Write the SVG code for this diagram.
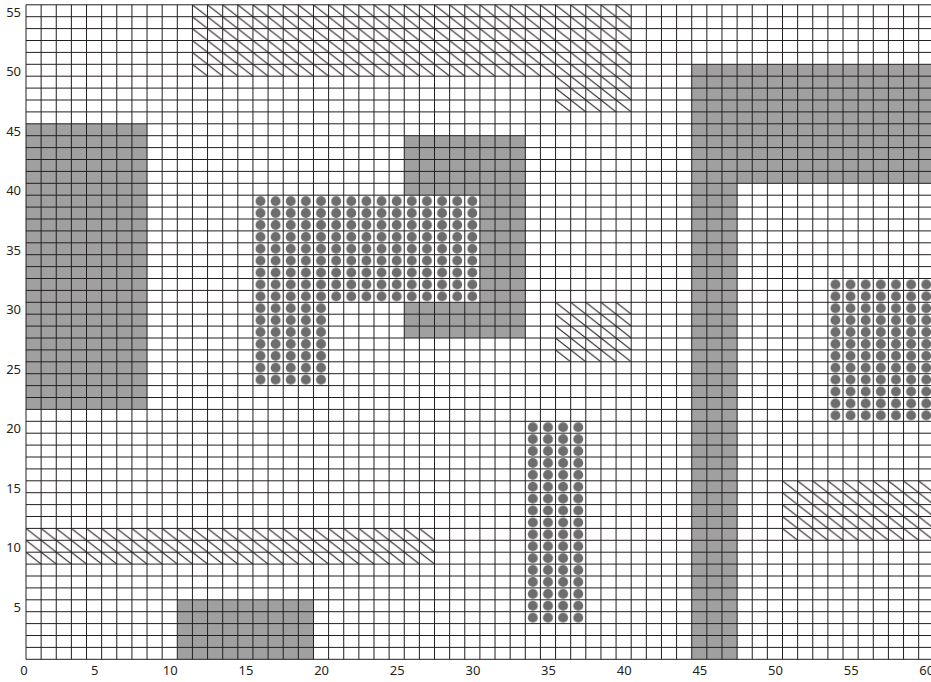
<svg xmlns="http://www.w3.org/2000/svg" width="931" height="682" viewBox="0 0 931 682">
<style>
.lbl{font-family:"Noto Sans","Open Sans","Liberation Sans",sans-serif;font-size:13px;fill:#231f20}
.yl{text-anchor:end}
.xl{text-anchor:middle}
.gray{fill:#a0a0a0}
.dots{fill:url(#dotPat)}
.hatch{fill:url(#hatchPat)}
.grid{fill:none;stroke:#231f20;stroke-width:1}
</style>
<defs>
<pattern id="dotPat" patternUnits="userSpaceOnUse" x="26" y="4.8" width="15.13" height="11.9">
<rect width="15.13" height="11.9" fill="#ffffff"/>
<circle cx="7.565" cy="5.95" r="5" fill="#6d6d6d"/>
</pattern>
<pattern id="hatchPat" patternUnits="userSpaceOnUse" x="26" y="4.8" width="15.13" height="11.9">
<line x1="0" y1="0" x2="15.13" y2="11.9" stroke="#231f20" stroke-width="1"/>
</pattern>
</defs>
<rect width="931" height="682" fill="#ffffff"/>
<g id="gray-regions">
<rect class="gray" x="26" y="123.8" width="121.04" height="285.6"/>
<rect class="gray" x="404.25" y="135.7" width="121.04" height="202.3"/>
<rect class="gray" x="691.72" y="64.3" width="239.28" height="119"/>
<rect class="gray" x="691.72" y="183.3" width="45.39" height="476"/>
<rect class="gray" x="177.3" y="599.8" width="136.17" height="59.5"/>
</g>
<g id="dot-regions">
<rect class="dots" x="252.95" y="195.2" width="226.95" height="107.1"/>
<rect class="dots" x="252.95" y="302.3" width="75.65" height="83.3"/>
<rect class="dots" x="525.29" y="421.3" width="60.52" height="202.3"/>
<rect class="dots" x="827.89" y="278.5" width="103.11" height="142.8"/>
</g>
<g id="hatch-regions">
<rect class="hatch" x="192.43" y="4.8" width="438.77" height="71.4"/>
<rect class="hatch" x="555.55" y="76.2" width="75.65" height="35.7"/>
<rect class="hatch" x="555.55" y="302.3" width="75.65" height="59.5"/>
<rect class="hatch" x="782.5" y="480.8" width="148.5" height="59.5"/>
<rect class="hatch" x="26" y="528.4" width="408.51" height="35.7"/>
</g>
<g id="grid">
<path class="grid" d="M26 4.8V659.3M41.13 4.8V659.3M56.26 4.8V659.3M71.39 4.8V659.3M86.52 4.8V659.3M101.65 4.8V659.3M116.78 4.8V659.3M131.91 4.8V659.3M147.04 4.8V659.3M162.17 4.8V659.3M177.3 4.8V659.3M192.43 4.8V659.3M207.56 4.8V659.3M222.69 4.8V659.3M237.82 4.8V659.3M252.95 4.8V659.3M268.08 4.8V659.3M283.21 4.8V659.3M298.34 4.8V659.3M313.47 4.8V659.3M328.6 4.8V659.3M343.73 4.8V659.3M358.86 4.8V659.3M373.99 4.8V659.3M389.12 4.8V659.3M404.25 4.8V659.3M419.38 4.8V659.3M434.51 4.8V659.3M449.64 4.8V659.3M464.77 4.8V659.3M479.9 4.8V659.3M495.03 4.8V659.3M510.16 4.8V659.3M525.29 4.8V659.3M540.42 4.8V659.3M555.55 4.8V659.3M570.68 4.8V659.3M585.81 4.8V659.3M600.94 4.8V659.3M616.07 4.8V659.3M631.2 4.8V659.3M646.33 4.8V659.3M661.46 4.8V659.3M676.59 4.8V659.3M691.72 4.8V659.3M706.85 4.8V659.3M721.98 4.8V659.3M737.11 4.8V659.3M752.24 4.8V659.3M767.37 4.8V659.3M782.5 4.8V659.3M797.63 4.8V659.3M812.76 4.8V659.3M827.89 4.8V659.3M843.02 4.8V659.3M858.15 4.8V659.3M873.28 4.8V659.3M888.41 4.8V659.3M903.54 4.8V659.3M918.67 4.8V659.3"/>
<path class="grid" d="M26 4.8H931M26 16.7H931M26 28.6H931M26 40.5H931M26 52.4H931M26 64.3H931M26 76.2H931M26 88.1H931M26 100H931M26 111.9H931M26 123.8H931M26 135.7H931M26 147.6H931M26 159.5H931M26 171.4H931M26 183.3H931M26 195.2H931M26 207.1H931M26 219H931M26 230.9H931M26 242.8H931M26 254.7H931M26 266.6H931M26 278.5H931M26 290.4H931M26 302.3H931M26 314.2H931M26 326.1H931M26 338H931M26 349.9H931M26 361.8H931M26 373.7H931M26 385.6H931M26 397.5H931M26 409.4H931M26 421.3H931M26 433.2H931M26 445.1H931M26 457H931M26 468.9H931M26 480.8H931M26 492.7H931M26 504.6H931M26 516.5H931M26 528.4H931M26 540.3H931M26 552.2H931M26 564.1H931M26 576H931M26 587.9H931M26 599.8H931M26 611.7H931M26 623.6H931M26 635.5H931M26 647.4H931M26 659.3H931"/>
</g>
<g id="y-axis-labels">
<text class="lbl yl" x="21" y="16.8">55</text>
<text class="lbl yl" x="21" y="76.3">50</text>
<text class="lbl yl" x="21" y="135.8">45</text>
<text class="lbl yl" x="21" y="195.3">40</text>
<text class="lbl yl" x="21" y="254.8">35</text>
<text class="lbl yl" x="21" y="314.3">30</text>
<text class="lbl yl" x="21" y="373.8">25</text>
<text class="lbl yl" x="21" y="433.3">20</text>
<text class="lbl yl" x="21" y="492.8">15</text>
<text class="lbl yl" x="21" y="552.3">10</text>
<text class="lbl yl" x="21" y="611.8">5</text>
</g>
<g id="x-axis-labels">
<text class="lbl xl" x="24" y="675">0</text>
<text class="lbl xl" x="94.65" y="675">5</text>
<text class="lbl xl" x="170.3" y="675">10</text>
<text class="lbl xl" x="245.95" y="675">15</text>
<text class="lbl xl" x="321.6" y="675">20</text>
<text class="lbl xl" x="397.25" y="675">25</text>
<text class="lbl xl" x="472.9" y="675">30</text>
<text class="lbl xl" x="548.55" y="675">35</text>
<text class="lbl xl" x="624.2" y="675">40</text>
<text class="lbl xl" x="699.85" y="675">45</text>
<text class="lbl xl" x="775.5" y="675">50</text>
<text class="lbl xl" x="851.15" y="675">55</text>
<text class="lbl xl" x="926.8" y="675">60</text>
</g>
</svg>
